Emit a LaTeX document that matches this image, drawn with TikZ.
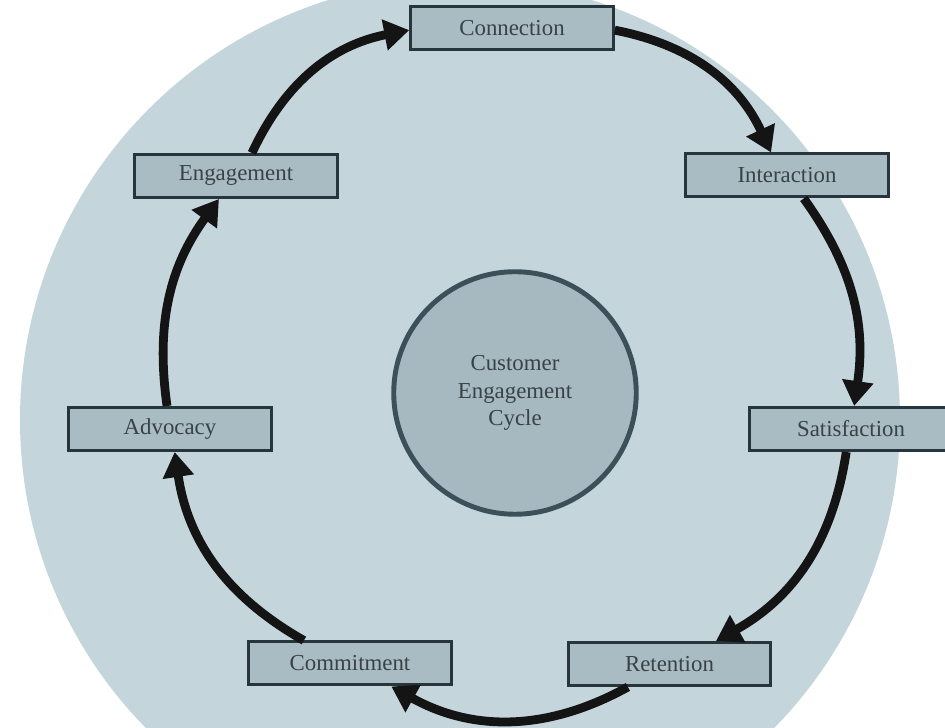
\documentclass[tikz,border=0pt]{standalone}
\usepackage{fontspec}
\setmainfont{Liberation Serif}
\usetikzlibrary{arrows.meta}

\definecolor{bgblue}{HTML}{C4D5DC}
\definecolor{boxfill}{HTML}{A9BBC3}
\definecolor{boxline}{HTML}{27363C}
\definecolor{hubfill}{HTML}{A6B8C0}
\definecolor{hubline}{HTML}{3B5059}
\definecolor{labelgray}{HTML}{384247}

\begin{document}
\begin{tikzpicture}[
  stage/.style={draw=boxline, fill=boxfill, line width=1.7pt,
    minimum width=4.05cm, minimum height=0.86cm, inner sep=0pt,
    text=labelgray, font=\fontsize{13}{15.5}\selectfont},
  hub/.style={circle, draw=hubline, fill=hubfill, line width=2.8pt,
    minimum size=4.85cm, align=center, text=labelgray,
    font=\fontsize{13}{15.5}\selectfont},
  cyclearrow/.style={line width=5pt, black!92,
    -{Triangle[length=0.5cm, width=0.6cm]}}
]
\clip (0,0) rectangle (18.9,14.56);

% light backdrop
\fill [bgblue] (9.2,6.16) circle [radius=8.8];

% centre
\node [hub] (cycle) at (10.3,6.7) {Customer\\Engagement\\Cycle};

% the seven stages
\node [stage] (connection)   at (10.24,14.0) {Connection};
\node [stage] (interaction)  at (15.74,11.05) {Interaction};
\node [stage] (satisfaction) at (17.02,5.98) {Satisfaction};
\node [stage] (retention)    at (13.39,1.28) {Retention};
\node [stage] (commitment)   at (7.0,1.29) {Commitment};
\node [stage] (advocacy)     at (3.4,5.98) {Advocacy};
\node [stage] (engagement)   at (4.72,11.04) {Engagement};

% arrows round the cycle
\draw [cyclearrow] (connection) to [bend left=27] (interaction);
\draw [cyclearrow] (interaction) to [bend left=22] (satisfaction);
\draw [cyclearrow] (satisfaction) to [bend left=26] (retention);
\draw [cyclearrow] (retention) to [bend left=29] (commitment);
\draw [cyclearrow] (commitment) to [bend left=26] (advocacy);
\draw [cyclearrow] (advocacy) to [bend left=22] (engagement);
\draw [cyclearrow] (engagement) to [bend left=27] (connection);
\end{tikzpicture}
\end{document}
